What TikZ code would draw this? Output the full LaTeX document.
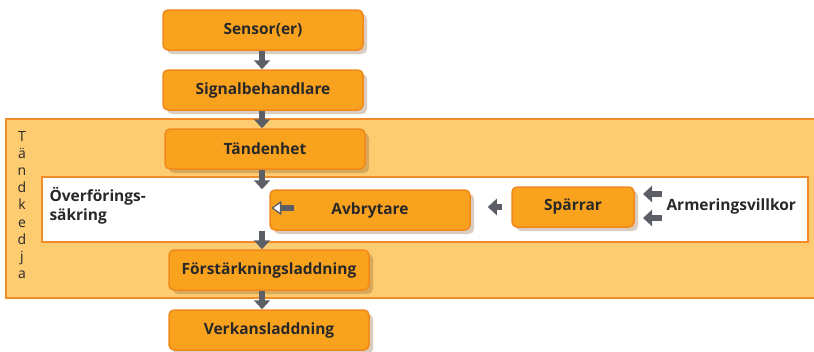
\documentclass[tikz,border=0pt]{standalone}
\usepackage{fontspec}
\setmainfont{Open Sans}
\usepackage{xcolor}
\usetikzlibrary{arrows.meta}
\usetikzlibrary{positioning}
\usetikzlibrary{shadows}

\definecolor{boxfill}{RGB}{249,162,30}
\definecolor{boxline}{RGB}{240,136,28}
\definecolor{bandfill}{RGB}{253,204,112}
\definecolor{bandline}{RGB}{242,140,40}
\definecolor{arrowgray}{RGB}{92,96,102}
\definecolor{textdark}{RGB}{40,40,40}

\tikzset{
    stepbox/.style={draw=boxline, line width=1.5pt, fill=boxfill, rounded corners=5pt,
        minimum width=200pt, minimum height=40pt, text=textdark,
        font=\bfseries\fontsize{15.5}{18}\selectfont,
        drop shadow={shadow xshift=4pt, shadow yshift=-4pt, opacity=0.3, fill=brown!70!black}},
    garrow/.style={line width=6pt, arrowgray, -{Triangle[width=16pt,length=9pt]}},
    warrow/.style={line width=6pt, arrowgray, -{Triangle[width=14pt,length=10pt,fill=white,line width=1.3pt]}},
    label/.style={text=textdark, font=\bfseries\fontsize{15.5}{19}\selectfont, align=left}
}

\begin{document}
\begin{tikzpicture}[x=1pt, y=-1pt]
    \useasboundingbox (0,0) rectangle (814,351);

    % Band: tändkedja
    \draw[bandline, line width=2pt, fill=bandfill] (6,119) rectangle (820,298);
    \draw[bandline, line width=2pt, fill=white] (42,177) rectangle (808,242);
    \node[text=textdark, font=\fontsize{14}{17.2}\selectfont, align=center] (kedja) at (22,205)
        {T\\ä\\n\\d\\k\\e\\d\\j\\a};

    % Kedjans steg
    \node[stepbox] (sensor) at (263,30) {Sensor(er)};
    \node[stepbox] (signal) at (263,90) {Signalbehandlare};
    \node[stepbox] (tandenhet) at (265,149) {Tändenhet};
    \node[stepbox] (avbrytare) at (370,210) {Avbrytare};
    \node[stepbox, minimum width=122pt] (sparrar) at (573,207) {Spärrar};
    \node[stepbox] (forst) at (269,270) {Förstärkningsladdning};
    \node[stepbox] (verkan) at (269,330) {Verkansladdning};

    % Texter
    \node[label, anchor=west] (overforing) at (46,206) {Överförings-\\säkring};
    \node[label, anchor=west] (armering) at (663,206) {Armeringsvillkor};

    % Pilar nedåt
    \coordinate (axis) at (262,0);
    \draw[garrow] (axis |- sensor.south) -- (axis |- signal.north);
    \draw[garrow] (axis |- signal.south) -- (axis |- tandenhet.north);
    \draw[garrow] (axis |- tandenhet.south) -- (axis |- avbrytare.north);
    \draw[garrow] (axis |- avbrytare.south) -- (axis |- forst.north);
    \draw[garrow] (axis |- forst.south) -- (axis |- verkan.north);

    % Pilar åt vänster
    \draw[warrow] ([xshift=25pt,yshift=2pt]avbrytare.west) -- ([xshift=2pt,yshift=2pt]avbrytare.west);
    \draw[garrow, shorten <=9pt, shorten >=17pt] (sparrar.west) -- (sparrar.west -| avbrytare.east);
    \draw[garrow] ([xshift=-1pt,yshift=12pt]armering.west) -- ([xshift=-20pt,yshift=12pt]armering.west);
    \draw[garrow] ([xshift=-1pt,yshift=-12pt]armering.west) -- ([xshift=-20pt,yshift=-12pt]armering.west);
\end{tikzpicture}
\end{document}
